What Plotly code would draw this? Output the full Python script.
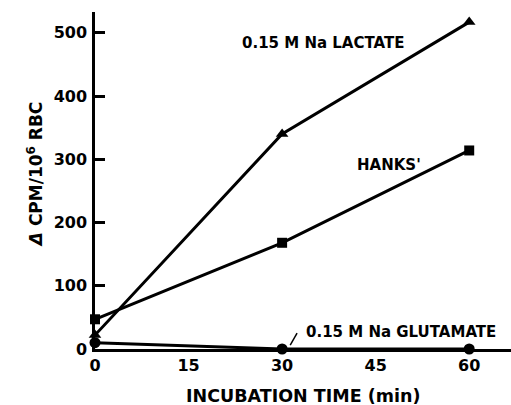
import plotly.graph_objects as go

time_min = [0, 30, 60]
lactate = [22, 340, 517]
hanks = [47, 168, 314]
glutamate = [10, 0, 0]

x_ticks = [0, 15, 30, 45, 60]
y_ticks = [0, 100, 200, 300, 400, 500]

FONT = "DejaVu Sans"

fig = go.Figure()
fig.add_trace(go.Scatter(x=time_min, y=lactate, mode="lines+markers",
                         line=dict(color="black", width=3),
                         marker=dict(symbol="triangle-up", size=11, color="black"),
                         cliponaxis=False, showlegend=False))
fig.add_trace(go.Scatter(x=time_min, y=hanks, mode="lines+markers",
                         line=dict(color="black", width=3),
                         marker=dict(symbol="square", size=10, color="black"),
                         cliponaxis=False, showlegend=False))
fig.add_trace(go.Scatter(x=time_min, y=glutamate, mode="lines+markers",
                         line=dict(color="black", width=3),
                         marker=dict(symbol="circle", size=11, color="black"),
                         cliponaxis=False, showlegend=False))

lab_font = dict(family=FONT, size=15, color="black", weight="bold")
fig.add_annotation(x=36.6, y=484, text="0.15 M Na LACTATE", showarrow=False,
                   font=lab_font, xanchor="center", yanchor="middle")
fig.add_annotation(x=47.1, y=291, text="HANKS'", showarrow=False,
                   font=lab_font, xanchor="center", yanchor="middle")
fig.add_annotation(x=49.0, y=27, text="0.15 M Na GLUTAMATE", showarrow=False,
                   font=lab_font, xanchor="center", yanchor="middle")
fig.add_shape(type="line", x0=31.3, y0=6, x1=32.4, y1=25,
              line=dict(color="black", width=1.5))

fig.add_annotation(xref="paper", yref="paper", x=0.5, y=-0.139,
                   text="INCUBATION TIME (min)", showarrow=False,
                   font=dict(family=FONT, size=17.5, color="black", weight="bold"),
                   xanchor="center", yanchor="middle")
fig.add_annotation(xref="paper", yref="paper", x=-0.144, y=0.519,
                   text="<i>Δ</i> CPM/10<sup>6</sup> RBC", showarrow=False, textangle=-90,
                   font=dict(family=FONT, size=17, color="black", weight="bold"),
                   xanchor="center", yanchor="middle")

fig.update_layout(
    width=511, height=405,
    margin=dict(l=95, r=0, t=12, b=56, autoexpand=False),
    paper_bgcolor="white", plot_bgcolor="white",
    xaxis=dict(range=[0, 66.7], tickvals=x_ticks, ticktext=[str(v) for v in x_ticks],
               showgrid=False, zeroline=False, showline=True, linecolor="black",
               linewidth=2.5, ticks="", ticklen=0, ticklabelstandoff=0, automargin=False,
               tickfont=dict(family=FONT, size=16, color="black", weight="bold")),
    yaxis=dict(range=[0, 533], tickvals=y_ticks, ticktext=[str(v) for v in y_ticks],
               showgrid=False, zeroline=False, showline=True, linecolor="black",
               linewidth=2.5, ticks="inside", ticklen=10, tickwidth=2.5, tickcolor="black",
               ticklabelstandoff=2, automargin=False,
               tickfont=dict(family=FONT, size=16, color="black", weight="bold")),
)

fig.write_html("out.html", config={"displayModeBar": False},
               post_script="document.body.style.margin='0';")
